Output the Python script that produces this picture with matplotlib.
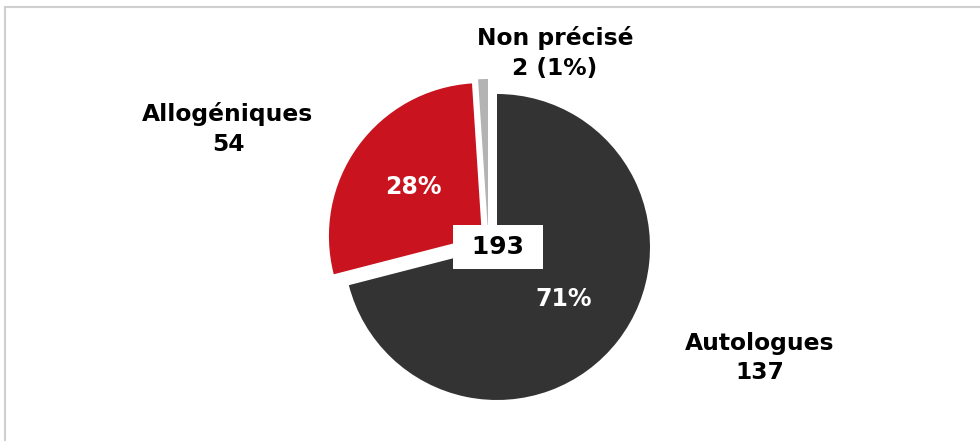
import matplotlib
matplotlib.use("Agg")
import matplotlib.pyplot as plt
from matplotlib.lines import Line2D

# ---- data ----
categories = ["Autologues", "Allogéniques", "Non précisé"]
values = [137, 54, 2]
total = sum(values)
colors = ["#333333", "#C9141F", "#B3B3B3"]

W, H = 980, 441
fig = plt.figure(figsize=(W / 100, H / 100), dpi=100)
ax = fig.add_axes([0, 0, 1, 1])

cx, cy = 497, H - 247
R = 153

def pct(p):
    return f"{p:.0f}%" if p > 5 else ""

wedges, texts, autotexts = ax.pie(
    values, colors=colors, startangle=90, counterclock=False,
    radius=R, center=(cx, cy), explode=[0, 18.6, 0],
    autopct=pct, pctdistance=0.55,
    textprops=dict(color="white", fontsize=17, fontweight="bold",
                   family="DejaVu Sans"),
    wedgeprops=dict(linewidth=0), frame=True)
ax.set_xlim(0, W)
ax.set_ylim(0, H)
ax.set_aspect("equal")
ax.axis("off")

# non-précisé slice offset
wedges[2].set_center((cx - 9, cy + 15))

# total box
ax.text(cx + 1, cy, f" {total} ", ha="center", va="center", fontsize=18,
        fontweight="bold", color="black", family="DejaVu Sans",
        bbox=dict(boxstyle="square,pad=0.4", fc="white", ec="none"))

lab_kw = dict(ha="center", va="center", fontsize=16.8, fontweight="bold",
              color="black", family="DejaVu Sans", linespacing=1.35)
ax.text(228, H - 129, f"{categories[1]}\n{values[1]}", **lab_kw)
ax.text(555, H - 53,
        f"{categories[2]}\n{values[2]} ({values[2] / total * 100:.0f}%)",
        **lab_kw)
ax.text(760, H - 358, f"{categories[0]}\n{values[0]}", **lab_kw)

# frame lines (top and left)
fig.add_artist(Line2D([5 / W, 1], [1 - 7 / H, 1 - 7 / H],
                      transform=fig.transFigure, color="#CFCFCF", lw=1.5))
fig.add_artist(Line2D([5 / W, 5 / W], [0, 1 - 7 / H],
                      transform=fig.transFigure, color="#CFCFCF", lw=1.5))

fig.savefig("out.png", dpi=100, facecolor="white")
